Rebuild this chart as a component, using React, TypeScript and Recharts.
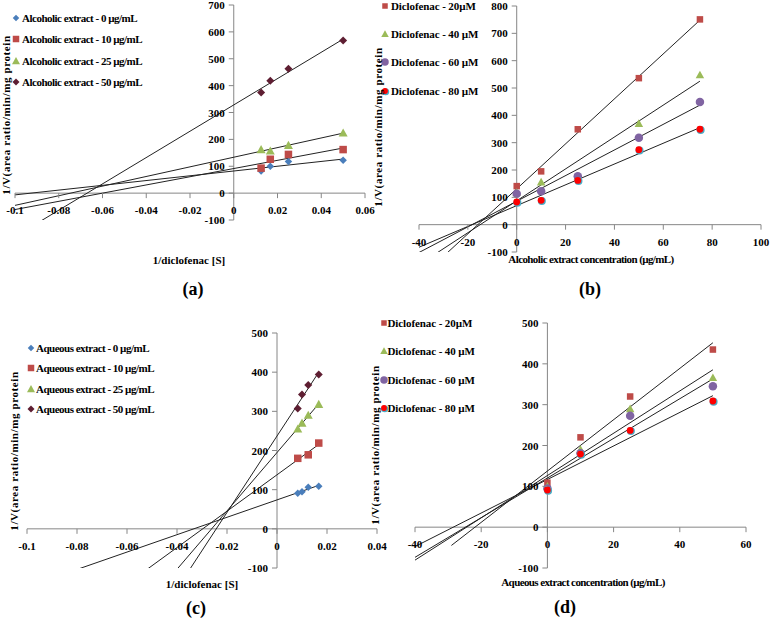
import React from 'react'
import {
  ComposedChart,
  Scatter,
  Line,
  XAxis,
  YAxis,
  ReferenceLine,
  ReferenceDot,
  Legend,
} from 'recharts'

// (a) alcoholic extract - Lineweaver-Burk
const invDicA = [0.0125, 0.0167, 0.025, 0.05]
const alc0 = [82, 100, 118, 122]
const alc10 = [93, 126, 144, 162]
const alc25 = [162, 157, 178, 224]
const alc50 = [374, 418, 463, 568]

// (b) alcoholic extract - Dixon
const alcConc = [0, 10, 25, 50, 75]
const dic20B = [141, 195, 349, 536, 751]
const dic40B = [118, 156, 178, 370, 548]
const dic60B = [113, 122, 177, 318, 449]
const dic80B = [83, 89, 162, 274, 349]

// (c) aqueous extract - Lineweaver-Burk
const invDicC = [0.0083, 0.01, 0.0125, 0.0167]
const invDicC10 = [0.0083, 0.0125, 0.0167]
const aq0 = [91, 95, 106, 109]
const aq10 = [180, 189, 219]
const aq25 = [255, 270, 290, 318]
const aq50 = [307, 343, 367, 394]

// (d) aqueous extract - Dixon
const aqConc = [0, 10, 25, 50]
const dic20D = [109, 220, 320, 435]
const dic40D = [100, 190, 290, 366]
const dic60D = [95, 181, 273, 345]
const dic80D = [91, 179, 237, 309]

// where each trendline's backward forecast starts
const trendFromA = [-0.1, -0.1, -0.1, -0.1]
const trendFromB = [-40, -40, -40, -40]
const trendFromC = [-0.1, -0.1, -0.1, -0.1]
const trendFromD = [-29, -40, -40, -40]

const alcNames = [
  'Alcoholic extract - 0 µg/mL',
  'Alcoholic extract - 10 µg/mL',
  'Alcoholic extract - 25 µg/mL',
  'Alcoholic extract - 50 µg/mL',
]
const aqNames = [
  'Aqueous extract - 0 µg/mL',
  'Aqueous extract - 10 µg/mL',
  'Aqueous extract - 25 µg/mL',
  'Aqueous extract - 50 µg/mL',
]
const dicNames = ['Diclofenac - 20µM', 'Diclofenac - 40 µM', 'Diclofenac - 60 µM', 'Diclofenac - 80 µM']

const xTicksA = [-0.1, -0.08, -0.06, -0.04, -0.02, 0, 0.02, 0.04, 0.06]
const yTicksA = [-100, 0, 100, 200, 300, 400, 500, 600, 700]
const xTicksB = [-40, -20, 0, 20, 40, 60, 80, 100]
const yTicksB = [-100, 0, 100, 200, 300, 400, 500, 600, 700, 800]
const xTicksC = [-0.1, -0.08, -0.06, -0.04, -0.02, 0, 0.02, 0.04]
const yTicksC = [-100, 0, 100, 200, 300, 400, 500]
const xTicksD = [-40, -20, 0, 20, 40, 60]
const yTicksD = [-100, 0, 100, 200, 300, 400, 500]

const AXIS = '#868686'
const TREND = '#222'
const BLUE = '#4A7EBB'
const RED = '#BE4B48'
const GREEN = '#9BBB59'
const MAROON = '#5E1E32'
const PURPLE = '#8064A2'
const FONT = '"Liberation Serif", "Times New Roman", serif'

type Mk = { kind: 'diamond' | 'square' | 'triangle' | 'circle' | 'ring'; fill: string; size: number }
type Series = { name: string; xs: number[]; ys: number[]; mk: Mk; from: number }

function linFit(xs: number[], ys: number[]) {
  const n = xs.length
  const mx = xs.reduce((s, v) => s + v, 0) / n
  const my = ys.reduce((s, v) => s + v, 0) / n
  let sxy = 0
  let sxx = 0
  xs.forEach((x, i) => {
    sxy += (x - mx) * (ys[i] - my)
    sxx += (x - mx) * (x - mx)
  })
  const m = sxy / sxx
  return { m, b: my - m * mx }
}

function Marker({ cx, cy, mk }: { cx: number; cy: number; mk: Mk }) {
  const s = mk.size / 2
  if (mk.kind === 'diamond')
    return <path d={`M${cx},${cy - s}L${cx + s},${cy}L${cx},${cy + s}L${cx - s},${cy}Z`} fill={mk.fill} />
  if (mk.kind === 'square') return <rect x={cx - s} y={cy - s} width={2 * s} height={2 * s} fill={mk.fill} />
  if (mk.kind === 'triangle')
    return <path d={`M${cx},${cy - s}L${cx + s},${cy + s * 0.8}L${cx - s},${cy + s * 0.8}Z`} fill={mk.fill} />
  if (mk.kind === 'circle') return <circle cx={cx} cy={cy} r={s} fill={mk.fill} />
  return (
    <g>
      <circle cx={cx + 0.7} cy={cy + 0.7} r={s} fill="#4BACC6" />
      <circle cx={cx} cy={cy} r={s - 0.6} fill="#FF0000" />
    </g>
  )
}

const tickFont = { fontFamily: FONT, fontWeight: 700, fontSize: 11, fill: '#000' }

const yTick = (v: number) => (p: any) => (
  <g>
    <line x1={p.cx - 5} y1={p.cy} x2={p.cx} y2={p.cy} stroke={AXIS} />
    <text x={p.cx - 9} y={p.cy} textAnchor="end" dominantBaseline="central" style={tickFont}>
      {String(v)}
    </text>
  </g>
)

const xTick = (v: number) => (p: any) => (
  <g>
    <line x1={p.cx} y1={p.cy} x2={p.cx} y2={p.cy + 5} stroke={AXIS} />
    <text x={p.cx} y={p.cy + 17} textAnchor="middle" dominantBaseline="central" style={tickFont}>
      {String(v)}
    </text>
  </g>
)

type LegendCfg = { left: number; top: number; gap: number; markerX: number; textX: number; spacing: number }

function LegendBox({ series, cfg }: { series: Series[]; cfg: LegendCfg }) {
  return (
    <div style={{ position: 'relative', width: 170, height: cfg.gap * series.length }}>
      {series.map((s, i) => (
        <div key={s.name} style={{ position: 'absolute', left: 0, top: i * cfg.gap, width: 170, height: 14 }}>
          <svg width={14} height={14} style={{ position: 'absolute', left: cfg.markerX - 7, top: 0 }}>
            <Marker cx={7} cy={7} mk={{ ...s.mk, size: s.mk.size - 1 }} />
          </svg>
          <span
            style={{
              position: 'absolute',
              left: cfg.textX,
              top: 0,
              lineHeight: '14px',
              whiteSpace: 'nowrap',
              fontFamily: FONT,
              fontWeight: 700,
              fontSize: 11,
              letterSpacing: cfg.spacing,
              color: '#000',
            }}
          >
            {s.name}
          </span>
        </div>
      ))}
    </div>
  )
}

type PanelProps = {
  left: number
  top: number
  width: number
  height: number
  margin: { top: number; right: number; bottom: number; left: number }
  xDomain: [number, number]
  yDomain: [number, number]
  xTicks: number[]
  yTicks: number[]
  series: Series[]
  legend: LegendCfg
}

function Panel(props: PanelProps) {
  const { left, top, width, height, margin, xDomain, yDomain, xTicks, yTicks, series, legend } = props
  return (
    <div style={{ position: 'absolute', left, top }}>
      <ComposedChart width={width} height={height} margin={margin}>
        <XAxis type="number" dataKey="x" domain={xDomain} allowDataOverflow hide />
        <YAxis type="number" dataKey="y" domain={yDomain} allowDataOverflow hide />
        <ReferenceLine x={0} stroke={AXIS} strokeWidth={1} />
        <ReferenceLine y={0} stroke={AXIS} strokeWidth={1} />
        {series.map((s) => (
          <Scatter
            key={'sc-' + s.name}
            name={s.name}
            data={s.xs.map((x, i) => ({ x, y: s.ys[i] }))}
            dataKey="y"
            isAnimationActive={false}
            shape={(p: any) => <Marker cx={p.cx} cy={p.cy} mk={s.mk} />}
          />
        ))}
        {series.map((s) => {
          const f = linFit(s.xs, s.ys)
          const x1 = s.xs[s.xs.length - 1]
          const pts = [
            { x: s.from, y: f.m * s.from + f.b },
            { x: x1, y: f.m * x1 + f.b },
          ]
          return (
            <Line
              key={'tr-' + s.name}
              data={pts}
              dataKey="y"
              stroke={TREND}
              strokeWidth={1}
              dot={false}
              activeDot={false}
              legendType="none"
              isAnimationActive={false}
            />
          )
        })}
        {yTicks.map((v) => (
          <ReferenceDot key={'yt' + v} x={0} y={v} r={0} shape={yTick(v)} />
        ))}
        {xTicks.map((v) => (
          <ReferenceDot key={'xt' + v} x={v} y={0} r={0} shape={xTick(v)} />
        ))}
        <Legend
          layout="vertical"
          align="center"
          verticalAlign="middle"
          wrapperStyle={{ position: 'absolute', left: legend.left, top: legend.top, width: 170 }}
          content={() => <LegendBox series={series} cfg={legend} />}
        />
      </ComposedChart>
    </div>
  )
}

const mkA = [
  { kind: 'diamond', fill: BLUE, size: 7.5 },
  { kind: 'square', fill: RED, size: 7.5 },
  { kind: 'triangle', fill: GREEN, size: 9 },
  { kind: 'diamond', fill: MAROON, size: 8 },
] as Mk[]
const mkB = [
  { kind: 'square', fill: RED, size: 6.5 },
  { kind: 'triangle', fill: GREEN, size: 8.5 },
  { kind: 'circle', fill: PURPLE, size: 8.5 },
  { kind: 'ring', fill: '#FF0000', size: 8 },
] as Mk[]

const seriesA: Series[] = [alc0, alc10, alc25, alc50].map((ys, i) => ({
  name: alcNames[i],
  xs: invDicA,
  ys,
  mk: mkA[i],
  from: trendFromA[i],
}))
const seriesB: Series[] = [dic20B, dic40B, dic60B, dic80B].map((ys, i) => ({
  name: dicNames[i],
  xs: alcConc,
  ys,
  mk: mkB[i],
  from: trendFromB[i],
}))
const seriesC: Series[] = [aq0, aq10, aq25, aq50].map((ys, i) => ({
  name: aqNames[i],
  xs: i === 1 ? invDicC10 : invDicC,
  ys,
  mk: mkA[i],
  from: trendFromC[i],
}))
const seriesD: Series[] = [dic20D, dic40D, dic60D, dic80D].map((ys, i) => ({
  name: dicNames[i],
  xs: aqConc,
  ys,
  mk: mkB[i],
  from: trendFromD[i],
}))

const titleStyle = { fontFamily: FONT, fontWeight: 700, fontSize: 11, fill: '#000' }
const letterStyle = { fontFamily: FONT, fontWeight: 700, fontSize: 18, fill: '#000' }
const yTitle = '1/V(area ratio/min/mg protein'

export default function App() {
  return (
    <div style={{ position: 'absolute', left: 0, top: 0, width: 770, height: 620, background: '#fff' }}>
      <Panel
        left={0}
        top={0}
        width={380}
        height={300}
        margin={{ top: 5, right: 15, bottom: 80, left: 15 }}
        xDomain={[-0.1, 0.06]}
        yDomain={[-100, 700]}
        xTicks={xTicksA}
        yTicks={yTicksA}
        series={seriesA}
        legend={{ left: 0, top: 11, gap: 21.3, markerX: 16, textX: 22, spacing: -0.5 }}
      />
      <Panel
        left={380}
        top={0}
        width={390}
        height={300}
        margin={{ top: 6, right: 9, bottom: 48, left: 39 }}
        xDomain={[-40, 100]}
        yDomain={[-100, 800]}
        xTicks={xTicksB}
        yTicks={yTicksB}
        series={seriesB}
        legend={{ left: 0, top: -1, gap: 28.2, markerX: 5, textX: 11, spacing: -0.1 }}
      />
      <Panel
        left={0}
        top={300}
        width={390}
        height={320}
        margin={{ top: 33, right: 13, bottom: 52, left: 27 }}
        xDomain={[-0.1, 0.04]}
        yDomain={[-100, 500]}
        xTicks={xTicksC}
        yTicks={yTicksC}
        series={seriesC}
        legend={{ left: 0, top: 41, gap: 20.3, markerX: 31, textX: 36, spacing: -0.5 }}
      />
      <Panel
        left={380}
        top={300}
        width={390}
        height={320}
        margin={{ top: 23, right: 24, bottom: 52, left: 35 }}
        xDomain={[-40, 60]}
        yDomain={[-100, 500]}
        xTicks={xTicksD}
        yTicks={yTicksD}
        series={seriesD}
        legend={{ left: 0, top: 16, gap: 28.3, markerX: 3.5, textX: 7.5, spacing: -0.1 }}
      />
      <svg width={770} height={620} style={{ position: 'absolute', left: 0, top: 0, pointerEvents: 'none' }}>
        <text x={10} y={115} transform="rotate(-90 10 115)" textAnchor="middle" style={titleStyle} letterSpacing={0.6}>
          {yTitle}
        </text>
        <text x={382} y={127} transform="rotate(-90 382 127)" textAnchor="middle" style={titleStyle} letterSpacing={0.6}>
          {yTitle}
        </text>
        <text x={18} y={451} transform="rotate(-90 18 451)" textAnchor="middle" style={titleStyle} letterSpacing={0.6}>
          {yTitle}
        </text>
        <text x={379} y={445} transform="rotate(-90 379 445)" textAnchor="middle" style={titleStyle} letterSpacing={0.6}>
          {yTitle}
        </text>
        <text x={189} y={260} textAnchor="middle" dominantBaseline="central" style={titleStyle}>
          1/diclofenac [S]
        </text>
        <text x={591} y={259} textAnchor="middle" dominantBaseline="central" style={titleStyle} letterSpacing={-0.6}>
          Alcoholic extract concentration (µg/mL)
        </text>
        <text x={202} y={584} textAnchor="middle" dominantBaseline="central" style={titleStyle}>
          1/diclofenac [S]
        </text>
        <text x={583} y={582} textAnchor="middle" dominantBaseline="central" style={titleStyle} letterSpacing={-0.6}>
          Aqueous extract concentration (µg/mL)
        </text>
        <text x={193} y={289} textAnchor="middle" dominantBaseline="central" style={letterStyle}>
          (a)
        </text>
        <text x={590} y={289} textAnchor="middle" dominantBaseline="central" style={letterStyle}>
          (b)
        </text>
        <text x={196} y={608} textAnchor="middle" dominantBaseline="central" style={letterStyle}>
          (c)
        </text>
        <text x={565} y={607} textAnchor="middle" dominantBaseline="central" style={letterStyle}>
          (d)
        </text>
      </svg>
    </div>
  )
}
